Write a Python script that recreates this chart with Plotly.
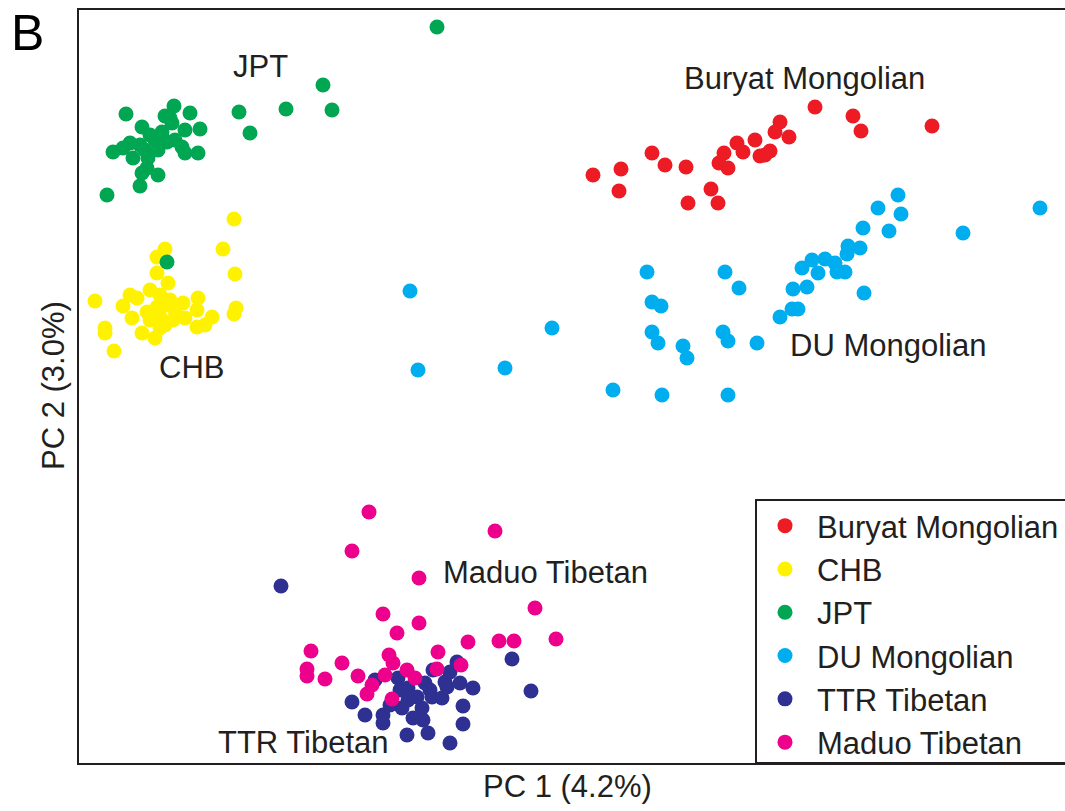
import plotly.graph_objects as go

# ---- data (PC1, PC2 scores, arbitrary units) ----
jpt_pc1 = [174,126,190,165,142,200,172,185,162,155,175,182,198,185,113,130,123,140,133,148,142,158,140,107,147,167,150,170,158,145,239,286,323,332,250,437,167]
jpt_pc2 = [106,114,113,116,127,129,123,130,132,140,140,147,153,153,152,143,148,145,158,158,173,175,186,195,168,142,135,118,150,150,112,109,85,110,133,27,262]

chb_pc1 = [234,223,165,157,235,157,168,150,130,137,95,123,198,183,197,236,234,212,170,157,147,132,173,160,205,197,105,105,142,155,160,114,165,175,150,165,185,160]
chb_pc2 = [219,249,249,257,274,273,283,290,295,298,301,306,298,303,310,308,314,317,300,307,312,318,320,317,325,327,328,333,333,338,328,351,305,310,320,325,318,295]

bur_pc1 = [815,853,861,932,780,775,789,755,770,760,737,743,724,719,728,652,665,686,621,593,619,711,688,718,765]
bur_pc2 = [107,116,131,126,122,132,137,140,151,156,143,152,153,163,168,153,165,167,169,175,191,189,203,203,155]

du_pc1 = [898,878,901,1040,963,863,889,848,860,847,812,825,835,845,802,818,837,864,807,793,798,792,780,647,725,739,652,661,652,658,683,687,723,728,757,613,662,728,410,552,505,418]
du_pc2 = [195,208,214,208,233,228,231,246,248,254,260,259,263,272,268,273,272,293,287,289,309,309,317,272,272,288,302,306,332,343,346,358,332,341,343,390,395,395,291,328,368,370]

ttr_pc1 = [281,512,531,457,473,463,463,450,428,407,352,365,383,383,402,422,423,442,445,460,425,408,398,375,432,417,450,433,413,390,447,400,408,430]
ttr_pc2 = [586,659,691,662,688,706,724,743,733,735,702,715,715,723,708,708,720,698,682,683,683,688,678,680,697,697,672,670,718,705,687,690,700,690]

mad_pc1 = [369,495,352,419,535,383,419,397,556,499,514,468,311,438,389,342,307,307,325,358,393,407,415,437,461,385,372,367,392]
mad_pc2 = [512,531,551,578,608,614,623,633,639,641,641,642,651,652,655,663,669,676,679,676,663,670,678,669,665,675,685,694,699]

groups = ["Buryat Mongolian", "CHB", "JPT", "DU Mongolian", "TTR Tibetan", "Maduo Tibetan"]
colors = ["#ed1c24", "#fff200", "#00a651", "#00aeef", "#2e3192", "#ec008c"]
series = [(bur_pc1, bur_pc2), (chb_pc1, chb_pc2), (jpt_pc1, jpt_pc2),
          (du_pc1, du_pc2), (ttr_pc1, ttr_pc2), (mad_pc1, mad_pc2)]

# group labels inside the plot
label_text = ["JPT", "Buryat Mongolian", "CHB", "DU Mongolian", "Maduo Tibetan", "TTR Tibetan"]
label_pc1 = [260, 804, 191, 888, 545, 303]
label_pc2 = [66, 78, 367, 345, 572, 742]

X_RANGE = [79, 1065]
Y_RANGE = [763, 10]

FONT = "Liberation Sans, Arial, Helvetica, sans-serif"
INK = "#231f20"

fig = go.Figure()
for name, col, (xs, ys) in zip(groups, colors, series):
    fig.add_trace(go.Scatter(x=xs, y=ys, mode="markers", name=name,
                             marker=dict(color=col, size=15, line=dict(width=0))))

for t, x, y in zip(label_text, label_pc1, label_pc2):
    fig.add_annotation(x=x, y=y, xref="x", yref="y", text=t, showarrow=False,
                       xanchor="center", yanchor="middle",
                       font=dict(family=FONT, size=31, color=INK))

W, H = 1065, 811
ml, mr, mt, mb = 79, 0, 10, 48
pw, ph = W - ml - mr, H - mt - mb

def px_x(p):
    return (p - ml) / pw

def px_y(p):
    return (H - mb - p) / ph

# axis titles and panel letter
fig.add_annotation(x=px_x(567), y=px_y(786), xref="paper", yref="paper", text="PC 1 (4.2%)",
                   showarrow=False, xanchor="center", yanchor="middle",
                   font=dict(family=FONT, size=31, color=INK))
fig.add_annotation(x=px_x(53), y=px_y(386), xref="paper", yref="paper", text="PC 2 (3.0%)",
                   showarrow=False, xanchor="center", yanchor="middle", textangle=-90,
                   font=dict(family=FONT, size=31, color=INK))
fig.add_annotation(x=px_x(27), y=px_y(33), xref="paper", yref="paper", text="B",
                   showarrow=False, xanchor="center", yanchor="middle",
                   font=dict(family=FONT, size=50, color="#000000"))

# legend frame (extends past the right edge)
fig.add_shape(type="rect", xref="paper", yref="paper",
              x0=px_x(756), x1=1.2, y0=0, y1=px_y(500),
              line=dict(color=INK, width=2), fillcolor="white", layer="below")

fig.update_layout(
    width=W, height=H,
    margin=dict(l=ml, r=mr, t=mt, b=mb),
    paper_bgcolor="white", plot_bgcolor="white",
    showlegend=True,
    legend=dict(x=px_x(753), y=px_y(499), xanchor="left", yanchor="top",
                bgcolor="rgba(0,0,0,0)", borderwidth=0, itemwidth=54,
                font=dict(family=FONT, size=31, color=INK)),
    xaxis=dict(range=X_RANGE, showgrid=False, zeroline=False, showticklabels=False,
               ticks="", showline=True, linecolor=INK, linewidth=2, mirror=True),
    yaxis=dict(range=Y_RANGE, showgrid=False, zeroline=False, showticklabels=False,
               ticks="", showline=True, linecolor=INK, linewidth=2, mirror=False),
)

fig.write_html("out.html", config={"displayModeBar": False},
               post_script="document.body.style.margin='0';document.body.style.overflow='hidden';")
